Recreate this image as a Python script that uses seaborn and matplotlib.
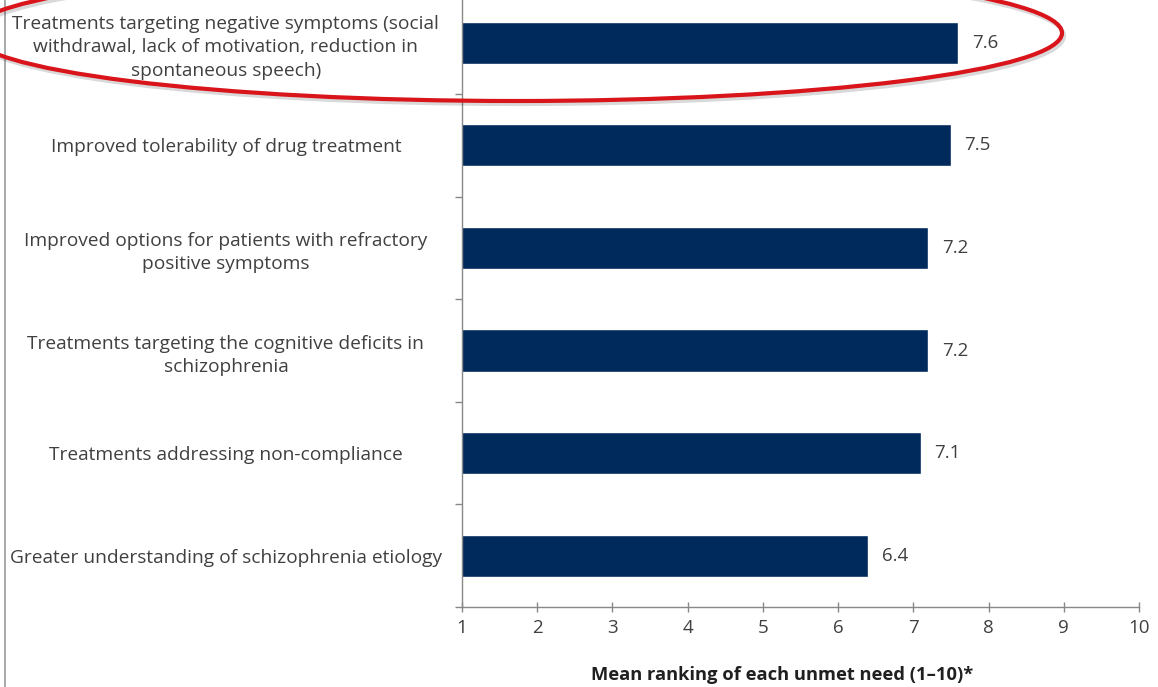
import numpy as np
import matplotlib.pyplot as plt
import seaborn as sns
import pandas as pd
from matplotlib.patches import Ellipse
from matplotlib.lines import Line2D

# Chart data
needs = [
    "Treatments targeting negative symptoms (social\nwithdrawal, lack of motivation, reduction in\nspontaneous speech)",
    "Improved tolerability of drug treatment",
    "Improved options for patients with refractory\npositive symptoms",
    "Treatments targeting the cognitive deficits in\nschizophrenia",
    "Treatments addressing non-compliance",
    "Greater understanding of schizophrenia etiology",
]
mean_rank = [7.6, 7.5, 7.2, 7.2, 7.1, 6.4]
x_ticks = list(range(1, 11))

sns.set_style("white")
plt.rcParams['font.family'] = ['Open Sans', 'DejaVu Sans']

df = pd.DataFrame({"need": needs, "rank": mean_rank})

W, H = 1158, 687
fig = plt.figure(figsize=(W / 100, H / 100), dpi=100)
ax = fig.add_axes([462 / W, 1 - 607 / H, 677 / W, 615.6 / H])

sns.barplot(data=df, y="need", x="rank", orient="h", color="#002a5c",
            width=0.41, saturation=1, ax=ax)

ax.set_xlim(1, 10)
ax.set_ylim(5.5, -0.5)
ax.set_xticks(x_ticks)
ax.set_xticklabels([str(t) for t in x_ticks], fontsize=13.5, color="#404040")
ax.set_yticks(range(len(needs)))
ax.set_yticklabels(needs, fontsize=13.8, color="#404040", ha="center",
                   linespacing=1.39)
ax.set_yticks(np.arange(0.5, len(needs), 1), minor=True)
ax.tick_params(axis="y", which="major", left=False, length=0, pad=170)
ax.tick_params(axis="y", which="minor", left=True, length=5,
               color="#888888", width=1, direction="out")
ax.tick_params(axis="x", which="major", bottom=True, length=7,
               color="#888888", width=1, direction="inout", pad=5)
ax.set_ylabel("")
ax.set_xlabel("Mean ranking of each unmet need (1\u201310)*", fontsize=13.2,
              fontweight="bold", color="#202020")
ax.xaxis.set_label_coords(0.473, -0.096)

for s in ["top", "right"]:
    ax.spines[s].set_visible(False)
for s in ["left", "bottom"]:
    ax.spines[s].set_color("#888888")
    ax.spines[s].set_linewidth(1)

for i, v in enumerate(mean_rank):
    ax.text(v + 0.18, i, f"{v:.1f}", va="center", ha="left", fontsize=13.5,
            color="#404040")

# left border line of the slide
fig.add_artist(Line2D([5 / W, 5 / W], [0, 1], transform=fig.transFigure,
                      color="#999999", lw=1.2))

# red highlight ellipse around the top item (with a soft shadow)
shadow = Ellipse((518 / W, 1 - 36 / H), 1092 / W, 136 / H,
                 transform=fig.transFigure, fill=False, edgecolor="#000000",
                 alpha=0.15, lw=3, zorder=9)
fig.add_artist(shadow)
ell = Ellipse((516 / W, 1 - 33 / H), 1092 / W, 136 / H,
              transform=fig.transFigure, fill=False, edgecolor="#d9141b",
              lw=3, zorder=10)
fig.add_artist(ell)

fig.savefig("out.png", dpi=100)
